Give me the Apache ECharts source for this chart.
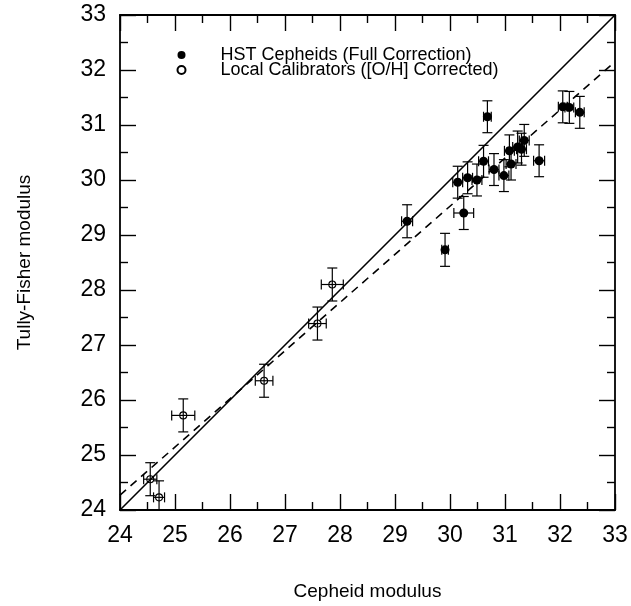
<!DOCTYPE html>
<html>
<head>
<meta charset="utf-8">
<script src="https://cdn.jsdelivr.net/npm/echarts@6/dist/echarts.min.js"></script>
<style>html,body{margin:0;padding:0;background:#fff}#c{width:631px;height:606px}</style>
</head>
<body>
<div id="c"></div>
<script>
// HST Cepheids (Full Correction)
const hstX    = [29.22, 29.91, 30.25, 30.14, 30.32, 30.49, 30.61, 30.68, 30.80, 30.98, 31.08, 31.11, 31.23, 31.30, 31.35, 31.62, 32.05, 32.17, 32.36];
const hstY    = [29.25, 28.73, 29.40, 29.96, 30.04, 30.00, 30.34, 31.15, 30.19, 30.08, 30.53, 30.29, 30.60, 30.56, 30.72, 30.35, 31.33, 31.32, 31.23];
const hstXErr = [0.10, 0.06, 0.18, 0.09, 0.09, 0.09, 0.09, 0.07, 0.09, 0.09, 0.09, 0.09, 0.09, 0.09, 0.09, 0.10, 0.08, 0.08, 0.08];
const hstYErr = [0.30, 0.30, 0.30, 0.29, 0.29, 0.29, 0.29, 0.29, 0.29, 0.29, 0.29, 0.29, 0.29, 0.29, 0.29, 0.29, 0.29, 0.29, 0.29];
// Local Calibrators ([O/H] Corrected)
const locX    = [24.55, 24.71, 25.15, 26.62, 27.59, 27.86];
const locY    = [24.56, 24.23, 25.72, 26.35, 27.39, 28.10];
const locXErr = [0.12, 0.10, 0.21, 0.16, 0.16, 0.20];
const locYErr = [0.30, 0.30, 0.30, 0.30, 0.30, 0.30];
// reference lines
const unityLine = [[24, 24], [33, 33]];
const fitLine   = [[24, 24.27], [33, 32.15]];
const axisMin = 24, axisMax = 33, axisStep = 1;

const chart = echarts.init(document.getElementById('c'));
const font = 'Liberation Sans, Arial, Helvetica, sans-serif';

function errRender(params, api) {
  const x = api.value(0), y = api.value(1), ex = api.value(2), ey = api.value(3);
  const t = api.coord([x, y + ey]), b = api.coord([x, y - ey]);
  const l = api.coord([x - ex, y]), r = api.coord([x + ex, y]);
  const cap = 5;
  const st = {stroke: '#000', lineWidth: 1.2};
  const seg = (x1, y1, x2, y2) => ({type: 'line', shape: {x1, y1, x2, y2}, style: st});
  return {type: 'group', children: [
    seg(t[0], t[1], b[0], b[1]),
    seg(t[0] - cap, t[1], t[0] + cap, t[1]),
    seg(b[0] - cap, b[1], b[0] + cap, b[1]),
    seg(l[0], l[1], r[0], r[1]),
    seg(l[0], l[1] - cap, l[0], l[1] + cap),
    seg(r[0], r[1] - cap, r[0], r[1] + cap)
  ]};
}

function axisCommon(extra) {
  return Object.assign({
    type: 'value', min: axisMin, max: axisMax, interval: axisStep,
    axisLine: {show: true, onZero: false, lineStyle: {color: '#000', width: 1.8}},
    axisTick: {show: true, inside: true, length: 16, lineStyle: {color: '#000', width: 1.4}},
    minorTick: {show: true, splitNumber: 2, length: 8, lineStyle: {color: '#000', width: 1.4}},
    splitLine: {show: false},
    minorSplitLine: {show: false}
  }, extra);
}

const option = {
  animation: false,
  backgroundColor: '#fff',
  grid: {left: 120, right: 16, top: 15, bottom: 95},
  legend: {
    orient: 'vertical', left: 176.5, top: 46, padding: 0, itemGap: -3,
    itemWidth: 8, itemHeight: 8,
    data: ['HST Cepheids (Full Correction)', 'Local Calibrators ([O/H] Corrected)'],
    textStyle: {fontFamily: font, fontSize: 18, color: '#000', lineHeight: 15, padding: [0, 0, 0, 30]}
  },
  xAxis: [
    axisCommon({
      position: 'bottom',
      name: 'Cepheid modulus', nameLocation: 'middle', nameGap: 72,
      nameTextStyle: {fontFamily: font, fontSize: 19, color: '#000'},
      axisLabel: {fontFamily: font, fontSize: 23, color: '#000', margin: 14}
    }),
    axisCommon({position: 'top', axisLabel: {show: false}})
  ],
  yAxis: [
    axisCommon({
      position: 'left',
      name: 'Tully-Fisher modulus', nameLocation: 'middle', nameGap: 86, nameRotate: 90,
      nameTextStyle: {fontFamily: font, fontSize: 19, color: '#000'},
      axisLabel: {fontFamily: font, fontSize: 23, color: '#000', margin: 14}
    }),
    axisCommon({position: 'right', axisLabel: {show: false}})
  ],
  series: [
    {type: 'line', data: unityLine, showSymbol: false, symbol: 'none', silent: true,
     lineStyle: {color: '#000', width: 1.6}, z: 1},
    {type: 'line', data: fitLine, showSymbol: false, symbol: 'none', silent: true,
     lineStyle: {color: '#000', width: 1.6, type: [8, 6]}, z: 1},
    {type: 'custom', renderItem: errRender, clip: true, z: 2,
     data: hstX.map((x, i) => [x, hstY[i], hstXErr[i], hstYErr[i]])},
    {type: 'custom', renderItem: errRender, clip: true, z: 2,
     data: locX.map((x, i) => [x, locY[i], locXErr[i], locYErr[i]])},
    {name: 'HST Cepheids (Full Correction)', type: 'scatter', symbol: 'circle', symbolSize: 9, z: 3,
     itemStyle: {color: '#000', opacity: 1},
     data: hstX.map((x, i) => [x, hstY[i]])},
    {name: 'Local Calibrators ([O/H] Corrected)', type: 'scatter', symbol: 'circle', symbolSize: 7, z: 3,
     itemStyle: {color: 'rgba(255,255,255,0)', borderColor: '#000', borderWidth: 1.1, opacity: 1},
     data: locX.map((x, i) => [x, locY[i]])}
  ]
};
chart.setOption(option);
</script>
</body>
</html>
